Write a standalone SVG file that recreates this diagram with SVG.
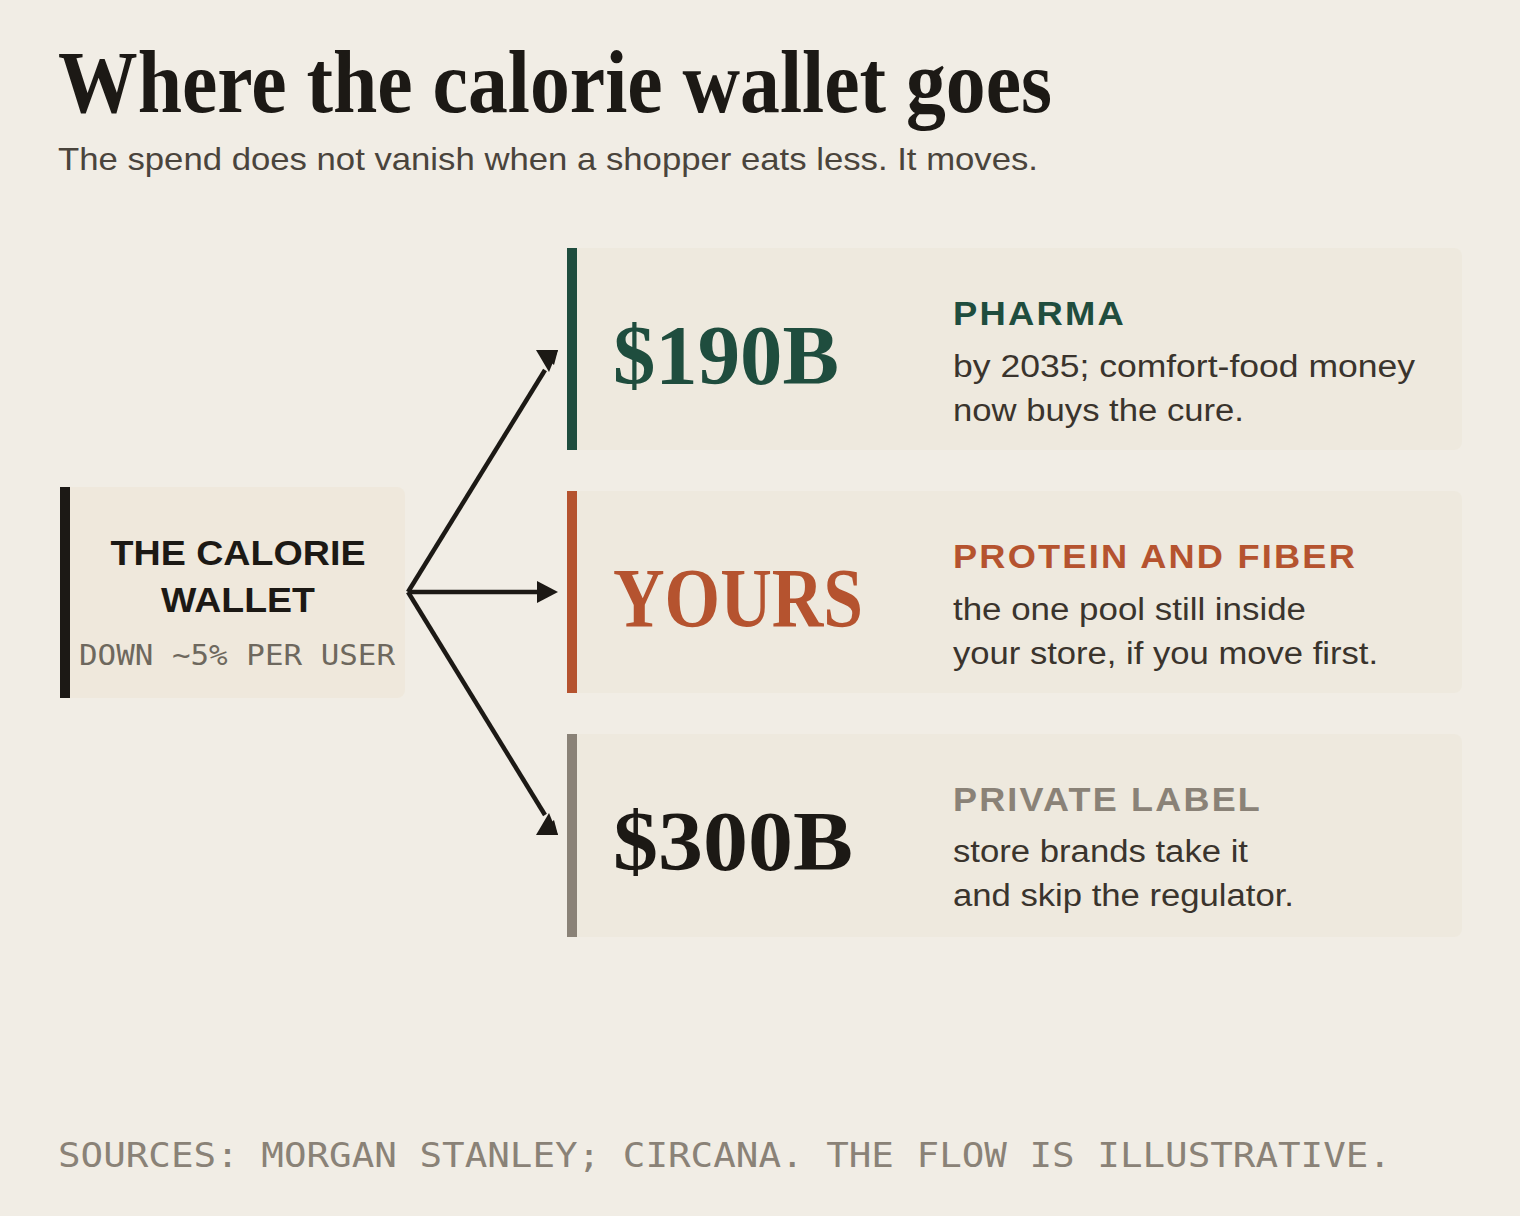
<svg xmlns="http://www.w3.org/2000/svg" width="1520" height="1216" viewBox="0 0 1520 1216">
<defs>
<style>
.title{font-family:"Liberation Serif",serif;font-weight:700;fill:#1C1915}
.sub{font-family:"Liberation Sans",Arial,sans-serif;fill:#4A443C}
.card{fill:#EEE9DE}
.big{font-family:"Liberation Serif",serif;font-weight:700;font-size:84px}
.lab{font-family:"Liberation Sans",Arial,sans-serif;font-weight:700;font-size:33px;letter-spacing:2px}
.desc{font-family:"Liberation Sans",Arial,sans-serif;font-size:31px;fill:#3A342D}
.mono{font-family:"DejaVu Sans Mono","Liberation Mono",monospace}
.conn{stroke:#1C1915;stroke-width:4.5;fill:none}
.head{fill:#1C1915}
</style>
</defs>
<rect width="1520" height="1216" fill="#F1EDE5"/>
<text class="title" x="58" y="112" font-size="88" textLength="994" lengthAdjust="spacingAndGlyphs">Where the calorie wallet goes</text>
<text class="sub" x="58" y="170" font-size="32" textLength="980" lengthAdjust="spacingAndGlyphs">The spend does not vanish when a shopper eats less. It moves.</text>

<g id="source">
<path d="M60 487 H397 a8 8 0 0 1 8 8 V690 a8 8 0 0 1 -8 8 H60 Z" fill="#EFE8DC"/>
<rect x="60" y="487" width="10" height="211" fill="#1C1915"/>
<text x="238" y="565" text-anchor="middle" font-family="Liberation Sans,Arial,sans-serif" font-weight="700" font-size="35" fill="#1C1915" textLength="255" lengthAdjust="spacingAndGlyphs">THE CALORIE</text>
<text x="238" y="612" text-anchor="middle" font-family="Liberation Sans,Arial,sans-serif" font-weight="700" font-size="35" fill="#1C1915" textLength="154" lengthAdjust="spacingAndGlyphs">WALLET</text>
<text class="mono" x="79" y="665" font-size="28" fill="#6E685E" textLength="316" lengthAdjust="spacingAndGlyphs">DOWN ~5% PER USER</text>
</g>

<g id="connectors">
<line class="conn" x1="408" y1="592" x2="545" y2="370"/>
<polygon class="head" points="558,350 536,350 549,372"/>
<polygon class="head" points="558,350 537,351 554,365"/>
<line class="conn" x1="408" y1="592" x2="540" y2="592"/>
<polygon class="head" points="558,592 537,581 537,603"/>
<line class="conn" x1="408" y1="592" x2="545" y2="815"/>
<polygon class="head" points="558,835 536,835 549,813"/>
<polygon class="head" points="558,835 537,834 554,820"/>
</g>

<g id="pharma">
<path class="card" d="M567 248 H1454 a8 8 0 0 1 8 8 V442 a8 8 0 0 1 -8 8 H567 Z"/>
<rect x="567" y="248" width="10" height="202" fill="#1F4D3E"/>
<text class="big" x="613" y="384" fill="#1F4D3E" textLength="226" lengthAdjust="spacingAndGlyphs">$190B</text>
<text class="lab" x="953" y="325" fill="#1F4D3E" textLength="173" lengthAdjust="spacingAndGlyphs">PHARMA</text>
<text class="desc" x="953" y="377" textLength="462" lengthAdjust="spacingAndGlyphs">by 2035; comfort-food money</text>
<text class="desc" x="953" y="421" textLength="291" lengthAdjust="spacingAndGlyphs">now buys the cure.</text>
</g>

<g id="yours">
<path class="card" d="M567 491 H1454 a8 8 0 0 1 8 8 V685 a8 8 0 0 1 -8 8 H567 Z"/>
<rect x="567" y="491" width="10" height="202" fill="#B5532F"/>
<text class="big" x="613" y="627" fill="#B5532F" textLength="250" lengthAdjust="spacingAndGlyphs">YOURS</text>
<text class="lab" x="953" y="568" fill="#B5532F" textLength="404" lengthAdjust="spacingAndGlyphs">PROTEIN AND FIBER</text>
<text class="desc" x="953" y="620" textLength="353" lengthAdjust="spacingAndGlyphs">the one pool still inside</text>
<text class="desc" x="953" y="664" textLength="425" lengthAdjust="spacingAndGlyphs">your store, if you move first.</text>
</g>

<g id="private-label">
<path class="card" d="M567 734 H1454 a8 8 0 0 1 8 8 V929 a8 8 0 0 1 -8 8 H567 Z"/>
<rect x="567" y="734" width="10" height="203" fill="#8A8277"/>
<text class="big" x="613" y="870" fill="#1C1915" textLength="240" lengthAdjust="spacingAndGlyphs">$300B</text>
<text class="lab" x="953" y="811" fill="#8A8277" textLength="309" lengthAdjust="spacingAndGlyphs">PRIVATE LABEL</text>
<text class="desc" x="953" y="862" textLength="295" lengthAdjust="spacingAndGlyphs">store brands take it</text>
<text class="desc" x="953" y="906" textLength="341" lengthAdjust="spacingAndGlyphs">and skip the regulator.</text>
</g>

<text class="mono" x="58" y="1167" font-size="34" fill="#8A8277" textLength="1333" lengthAdjust="spacingAndGlyphs">SOURCES: MORGAN STANLEY; CIRCANA. THE FLOW IS ILLUSTRATIVE.</text>
</svg>
